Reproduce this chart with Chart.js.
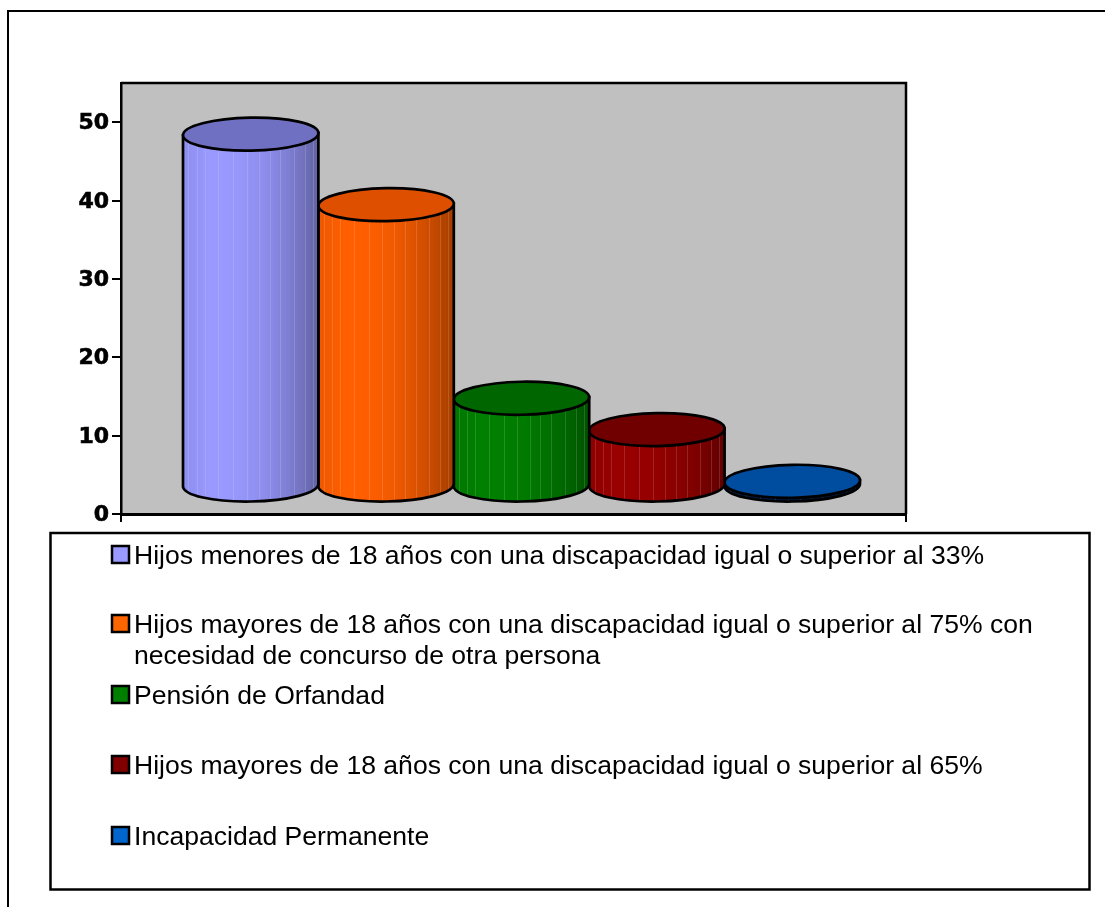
<!DOCTYPE html>
<html>
<head>
<meta charset="utf-8">
<style>html,body{margin:0;padding:0;background:#fff}canvas{display:block}</style>
<script src="https://cdn.jsdelivr.net/npm/chart.js@4/dist/chart.umd.min.js"></script>
</head>
<body>
<div style="width:1105px;height:907px"><canvas id="c" width="1105" height="907"></canvas></div>
<script>
const categories = [''];
const seriesLabels = [
  ['Hijos menores de 18 años con una discapacidad igual o superior al 33%'],
  ['Hijos mayores de 18 años con una discapacidad igual o superior al 75% con', 'necesidad de concurso de otra persona'],
  ['Pensión de Orfandad'],
  ['Hijos mayores de 18 años con una discapacidad igual o superior al 65%'],
  ['Incapacidad Permanente']
];
const seriesValues = [44.9, 35.9, 11.2, 7.2, 0.6];
const sideColors = [[153,153,255],[255,95,0],[0,128,0],[153,0,0],[0,25,60]];
const topColors = ['#7070C2','#DE4F00','#006600','#700000','#004C9E'];
const swatchColors = ['#9999FF','#FF6600','#008000','#800000','#0066CC'];
const yTickValues = [0,10,20,30,40,50];

const DEPTH_X = 8, DEPTH_Y = 28, HALF_H = 16.5, TILT = -0.017;
const stripes = [.04,.1,.16,.26,.37,.47,.56,.64,.72,.82,.9,.96];

function shade(c,t){
  const f = t < .2 ? .93 + .07*t/.2 : 1 - .36*Math.pow((t-.2)/.8,2.2);
  return 'rgb('+c.map(v=>Math.round(v*f)).join(',')+')';
}

const cylinders = {
  id:'cylinders',
  beforeDatasetDraw(chart,args){
    const el = chart.getDatasetMeta(args.index).data[0];
    const ctx = chart.ctx, i = args.index;
    const w = el.width, l = el.x - w/2 + DEPTH_X, r = l + w, cx = l + w/2;
    const topY = el.y - DEPTH_Y, botY = el.base - DEPTH_Y;
    const rx = w/2, dy = Math.sin(TILT)*rx;
    ctx.save();
    const body = new Path2D();
    body.moveTo(l, topY - dy);
    body.lineTo(l, botY - dy);
    body.ellipse(cx, botY, rx, HALF_H, TILT, Math.PI, 0, true);
    body.lineTo(r, topY + dy);
    body.closePath();
    ctx.save();
    ctx.clip(body);
    const n = 34;
    for(let k=0;k<n;k++){
      ctx.fillStyle = shade(sideColors[i],(k+.5)/n);
      ctx.fillRect(l + w*k/n, topY-30, w/n+1, botY-topY+70);
    }
    ctx.fillStyle = 'rgba(255,255,255,.14)';
    stripes.forEach(s=>ctx.fillRect(Math.round(l+w*s), topY-30, 1, botY-topY+70));
    ctx.restore();
    ctx.lineWidth = 2.7;
    ctx.strokeStyle = '#000';
    ctx.stroke(body);
    ctx.beginPath();
    ctx.ellipse(cx, topY, rx, HALF_H, TILT, 0, Math.PI*2);
    ctx.fillStyle = topColors[i];
    ctx.fill();
    ctx.stroke();
    ctx.restore();
    return false;
  }
};

const frame = {
  id:'frame',
  beforeDraw(chart){
    const {ctx,chartArea:a} = chart;
    ctx.save();
    ctx.fillStyle = '#fff';
    ctx.fillRect(0,0,chart.width,chart.height);
    ctx.fillStyle = '#000';
    ctx.fillRect(8,10,chart.width-8,2);
    ctx.fillRect(7,10,2,chart.height-10);
    ctx.fillStyle = '#C0C0C0';
    ctx.fillRect(a.left,a.top,a.right-a.left,a.bottom-a.top);
    ctx.restore();
  },
  afterDatasetsDraw(chart){
    const {ctx,chartArea:a} = chart;
    ctx.save();
    ctx.strokeStyle = '#000';
    ctx.lineWidth = 2.5;
    ctx.beginPath();
    ctx.moveTo(a.left,a.top);ctx.lineTo(a.right,a.top);ctx.lineTo(a.right,a.bottom);
    ctx.stroke();
    ctx.restore();
  },
  afterDraw(chart){
    const ctx = chart.ctx;
    ctx.save();
    ctx.strokeStyle = '#000';
    ctx.lineWidth = 2.5;
    ctx.strokeRect(50.5,533,1039,356.5);
    ctx.font = '26.55px "Liberation Sans", Arial, sans-serif';
    ctx.textBaseline = 'alphabetic';
    const rows = [[564],[633,664],[704],[774],[845]];
    seriesLabels.forEach((lines,i)=>{
      const sy = rows[i][0]-18;
      ctx.fillStyle = swatchColors[i];
      ctx.fillRect(112,sy,17,17);
      ctx.lineWidth = 2.5;
      ctx.strokeStyle = '#000';
      ctx.strokeRect(112,sy,17,17);
      ctx.fillStyle = '#000';
      lines.forEach((t,j)=>ctx.fillText(t,134,rows[i][j]));
    });
    ctx.restore();
  }
};

new Chart(document.getElementById('c'),{
  type:'bar',
  data:{
    labels:categories,
    datasets:seriesLabels.map((lines,i)=>({
      label:lines.join(' '),
      data:[seriesValues[i]],
      backgroundColor:swatchColors[i],
      categoryPercentage:0.8624,
      barPercentage:1
    }))
  },
  plugins:[frame,cylinders],
  options:{
    responsive:false,
    animation:false,
    layout:{padding:{left:0,right:199,top:83,bottom:0}},
    plugins:{legend:{display:false},title:{display:false},tooltip:{enabled:false}},
    scales:{
      x:{
        afterFit(s){s.height=393;},
        grid:{display:true,drawOnChartArea:false,drawTicks:true,tickLength:8,color:'#000',lineWidth:2},
        border:{color:'#000',width:3},
        ticks:{display:true,callback:()=>''}
      },
      y:{
        min:0,max:55,
        afterFit(s){s.width=121;},
        afterBuildTicks(s){s.ticks=yTickValues.map(v=>({value:v}));},
        grid:{display:true,drawOnChartArea:false,drawTicks:true,tickLength:9,color:'#000',lineWidth:2},
        border:{color:'#000',width:2.5},
        ticks:{color:'#000',padding:3,labelOffset:1.5,textStrokeColor:'#000',textStrokeWidth:0.6,font:{family:'"DejaVu Sans"',weight:'bold',size:22,lineHeight:1.05}}
      }
    }
  }
});
</script>
</body>
</html>
